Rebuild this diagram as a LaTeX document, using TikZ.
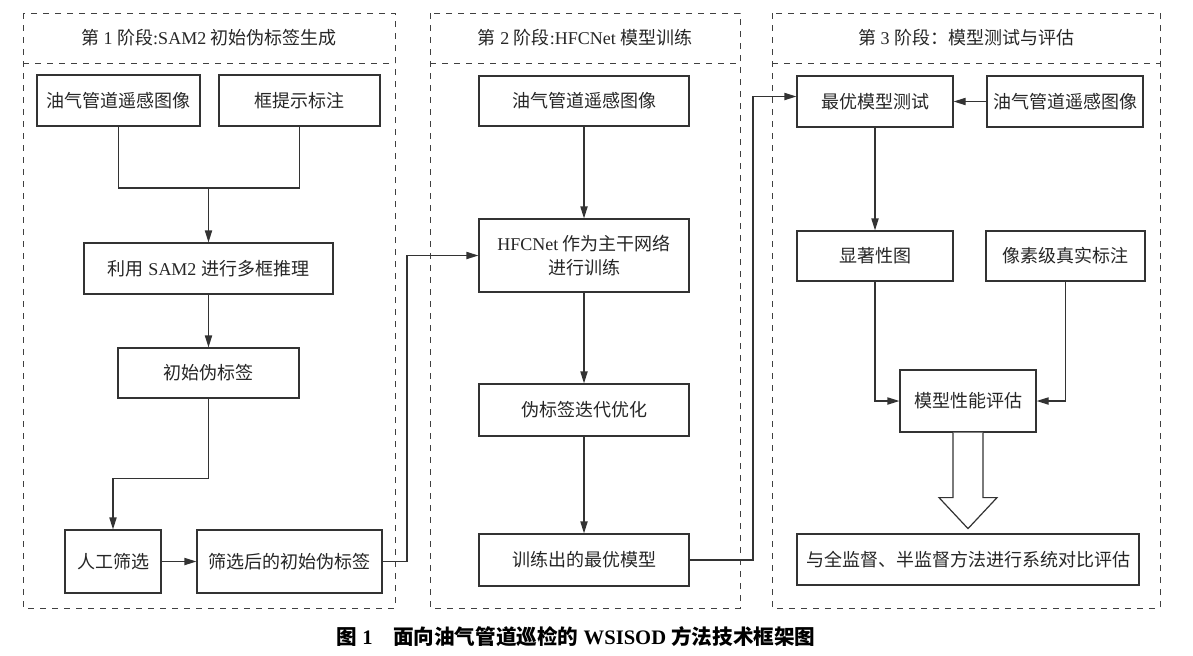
\documentclass[tikz,border=0pt]{standalone}
\usepackage{fontspec}
\setmainfont{Liberation Serif}
\newfontfamily\cjk{Noto Sans CJK SC}
\newcommand{\lat}[1]{{\rmfamily #1}}
\usetikzlibrary{arrows.meta}

\begin{document}
\begin{tikzpicture}[x=0.5pt,y=-0.5pt,
  box/.style={draw=black!80,line width=0.6pt,fill=white,inner sep=0pt,align=center,text=black!85,font=\cjk\fontsize{9}{12}\selectfont},
  panel/.style={draw=black!75,dashed,line width=0.5pt},
  head/.style={text=black!85,font=\cjk\fontsize{9}{12}\selectfont},
  wire/.style={draw=black!80,line width=0.6pt},
  arr/.style={wire,-{Triangle[length=6pt,width=3.6pt]}}]
\useasboundingbox (0,0) rectangle (1193,655);
\draw[panel] (23,13) rectangle (395,608) (23,63) -- (395,63);
\draw[panel] (430,13) rectangle (740,608) (430,63) -- (740,63);
\draw[panel] (772,13) rectangle (1160,608) (772,63) -- (1160,63);
\node[head] (h1) at (209,38) {第\lat{ 1 }阶段\lat{:SAM2 }初始伪标签生成};
\node[head] (h2) at (585,38) {第\lat{ 2 }阶段\lat{:HFCNet }模型训练};
\node[head] (h3) at (966,38) {第\lat{ 3 }阶段：模型测试与评估};

\node[box,minimum width=81.5pt,minimum height=25.5pt] (img1) at (118.5,100.5) {油气管道遥感图像};
\node[box,minimum width=80.5pt,minimum height=25.5pt] (prompt) at (299.5,100.5) {框提示标注};
\node[box,minimum width=124.5pt,minimum height=25.5pt] (sam) at (208.5,268.5) {利用\lat{ SAM2 }进行多框推理};
\node[box,minimum width=90.5pt,minimum height=25pt] (pseudo) at (208.5,373) {初始伪标签};
\node[box,minimum width=48pt,minimum height=31.5pt] (manual) at (113,561.5) {人工筛选};
\node[box,minimum width=92.5pt,minimum height=31.5pt] (filtered) at (289.5,561.5) {筛选后的初始伪标签};
\coordinate (j1) at (208.5,188);
\coordinate (bend1) at (407,400);
\draw[wire] (img1.south) |- (j1) -| (prompt.south);
\draw[arr] (j1) -- (sam.north);
\draw[arr] (sam) -- (pseudo);
\draw[arr] (pseudo.south) -- ++(0,80) -| (manual.north);
\draw[arr] (manual) -- (filtered);

\node[box,minimum width=105pt,minimum height=25pt] (img2) at (584,101) {油气管道遥感图像};
\node[box,minimum width=105pt,minimum height=36.5pt] (hfc) at (584,255.5) {\lat{HFCNet }作为主干网络\\进行训练};
\node[box,minimum width=105pt,minimum height=26pt] (iter) at (584,410) {伪标签迭代优化};
\node[box,minimum width=105pt,minimum height=26pt] (best) at (584,560) {训练出的最优模型};
\coordinate (bend2) at (753,300);
\draw[arr] (filtered.east) -| (bend1) |- (hfc.west);
\draw[arr] (img2) -- (hfc);
\draw[arr] (hfc) -- (iter);
\draw[arr] (iter) -- (best);

\node[box,minimum width=78pt,minimum height=25.5pt] (test) at (875,101.5) {最优模型测试};
\node[box,minimum width=78pt,minimum height=25.5pt] (img3) at (1065,101.5) {油气管道遥感图像};
\node[box,minimum width=78pt,minimum height=25pt] (sal) at (875,256) {显著性图};
\node[box,minimum width=79.5pt,minimum height=25pt] (gt) at (1065.5,256) {像素级真实标注};
\node[box,minimum width=68pt,minimum height=31pt] (eval) at (968,401) {模型性能评估};
\node[box,minimum width=171pt,minimum height=25.5pt] (final) at (968,559.5) {与全监督、半监督方法进行系统对比评估};
\draw[arr] (best.east) -| (bend2) |- ([yshift=2.5pt]test.west);
\draw[arr] (img3) -- (test);
\draw[arr] (test) -- (sal);
\draw[arr] (sal.south) |- (eval.west);
\draw[arr] (gt.south) |- (eval.east);
\draw[wire,fill=white] ([xshift=-7.5pt]eval.south) -- ++(0,65) -- ++(-14,0) -- ++(29,31) -- ++(29,-31) -- ++(-14,0) -- ([xshift=7.5pt]eval.south);

\node[text=black,font=\cjk\bfseries\fontsize{10.3}{13}\selectfont] (cap) at (576,637) {图\lat{\bfseries\ 1}\quad 面向油气管道巡检的\lat{\bfseries\ WSISOD }方法技术框架图};
\end{tikzpicture}
\end{document}
